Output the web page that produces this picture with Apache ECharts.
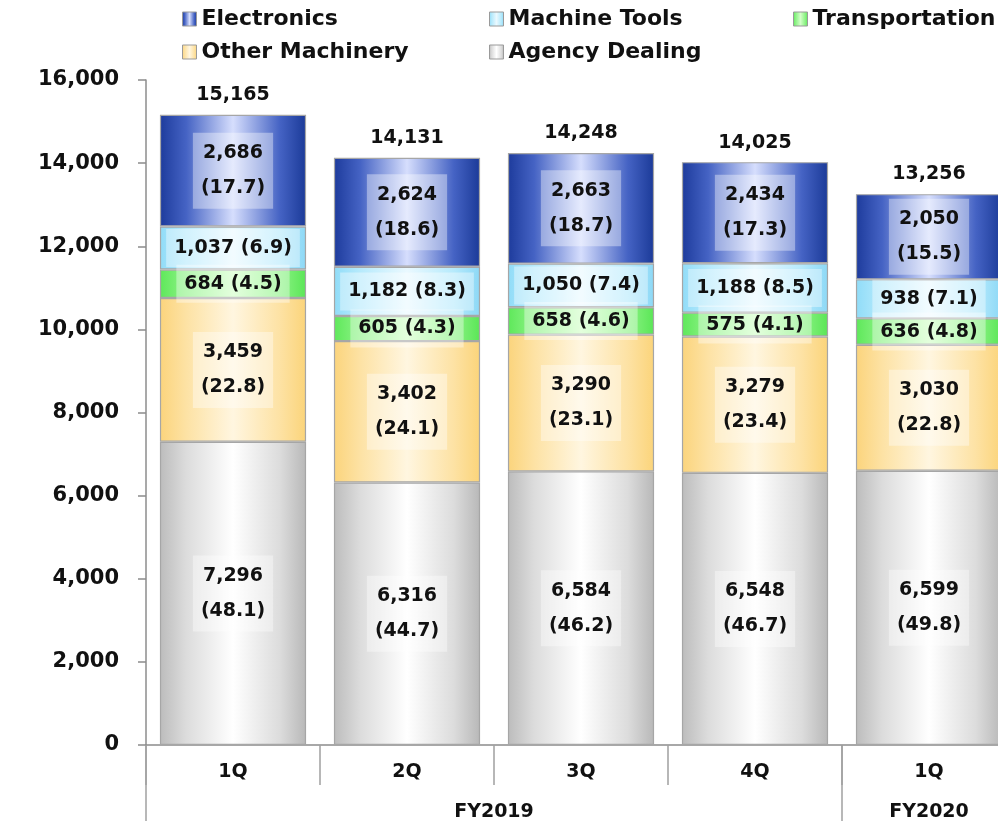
<!DOCTYPE html>
<html>
<head>
<meta charset="utf-8">
<script src="https://cdn.jsdelivr.net/npm/echarts@6/dist/echarts.min.js"></script>
<style>
  html, body { margin: 0; padding: 0; background: #fff; }
  #chart { width: 998px; height: 821px; }
</style>
</head>
<body>
<div id="chart"></div>
<script>
// Quarterly sales by segment (stack order: bottom to top)
const quarters = ['1Q', '2Q', '3Q', '4Q', '1Q'];
const fiscalYears = ['FY2019', 'FY2020'];
const fiscalYearSpans = [4, 1]; // number of quarters in each fiscal year

const agencyDealing   = [7296, 6316, 6584, 6548, 6599];
const otherMachinery  = [3459, 3402, 3290, 3279, 3030];
const transportation  = [684, 605, 658, 575, 636];
const machineTools    = [1037, 1182, 1050, 1188, 938];
const electronics     = [2686, 2624, 2663, 2434, 2050];

// Share of total (%)
const agencyShare     = [48.1, 44.7, 46.2, 46.7, 49.8];
const otherShare      = [22.8, 24.1, 23.1, 23.4, 22.8];
const transportShare  = [4.5, 4.3, 4.6, 4.1, 4.8];
const machineShare    = [6.9, 8.3, 7.4, 8.5, 7.1];
const electronicsShare= [17.7, 18.6, 18.7, 17.3, 15.5];

const totals = [15165, 14131, 14248, 14025, 13256];

const yTicks = { min: 0, max: 16000, interval: 2000 };

const FONT = '"DejaVu Sans", Verdana, sans-serif';
const fmt = v => v.toLocaleString('en-US');

function grad(edgeL, mid, center, edgeR) {
  return {
    type: 'linear', x: 0, y: 0, x2: 1, y2: 0,
    colorStops: [
      { offset: 0, color: edgeL },
      { offset: 0.18, color: mid },
      { offset: 0.5, color: center },
      { offset: 0.82, color: mid },
      { offset: 1, color: edgeR }
    ]
  };
}

const palette = {
  'Agency Dealing':  grad('#bcbcbc', '#dcdcdc', '#ffffff', '#b8b8b8'),
  'Other Machinery': grad('#fbd47c', '#fde2a4', '#fff6e0', '#fbd47a'),
  'Transportation':  grad('#5ee85a', '#8cf285', '#d2ffc8', '#5ae656'),
  'Machine Tools':   grad('#90dcf8', '#b6eafc', '#eaf9ff', '#8cd8f6'),
  'Electronics':     grad('#1d3b9c', '#4563c4', '#d6defd', '#1b3a98')
};

function segLabel(values, shares, twoLine) {
  return {
    show: true,
    position: 'inside',
    fontFamily: FONT,
    fontWeight: 'bold',
    fontSize: 19,
    color: '#111',
    lineHeight: twoLine ? 35 : 26,
    backgroundColor: 'rgba(255,255,255,0.38)',
    padding: twoLine ? [3, 8] : [6, 8],
    formatter: p => twoLine
      ? fmt(values[p.dataIndex]) + '\n(' + shares[p.dataIndex].toFixed(1) + ')'
      : fmt(values[p.dataIndex]) + ' (' + shares[p.dataIndex].toFixed(1) + ')'
  };
}

function barSeries(name, values, shares, twoLine) {
  return {
    name: name,
    type: 'bar',
    stack: 'sales',
    barWidth: '84%',
    data: values,
    itemStyle: { color: palette[name], borderColor: '#a6a6a6', borderWidth: 1.2 },
    label: segLabel(values, shares, twoLine),
    emphasis: { disabled: true }
  };
}

const legendItems = [
  { name: 'Electronics',     left: 182, top: 8 },
  { name: 'Machine Tools',   left: 489, top: 8 },
  { name: 'Transportation',  left: 793, top: 8 },
  { name: 'Other Machinery', left: 182, top: 41 },
  { name: 'Agency Dealing',  left: 489, top: 41 }
];

const chart = echarts.init(document.getElementById('chart'), null, { renderer: 'canvas' });

const option = {
  animation: false,
  backgroundColor: '#ffffff',
  legend: legendItems.map(l => ({
    data: [l.name],
    left: l.left,
    top: l.top,
    icon: 'rect',
    itemWidth: 14,
    itemHeight: 14,
    itemGap: 0,
    padding: 0,
    selectedMode: false,
    itemStyle: { borderColor: '#9a9a9a', borderWidth: 1 },
    textStyle: { fontFamily: FONT, fontWeight: 'bold', fontSize: 22, color: '#111', padding: [0, 0, 0, 0] }
  })),
  grid: { left: 146, top: 80, width: 870, height: 665, outerBoundsMode: 'none' },
  xAxis: {
    type: 'category',
    data: quarters,
    axisLine: { lineStyle: { color: '#8c8c8c', width: 1.5 } },
    axisTick: { show: true, length: 40, lineStyle: { color: '#a0a0a0', width: 1.5 } },
    axisLabel: { fontFamily: FONT, fontWeight: 'bold', fontSize: 19, color: '#111', margin: 18 }
  },
  yAxis: {
    type: 'value',
    min: yTicks.min,
    max: yTicks.max,
    interval: yTicks.interval,
    splitLine: { show: false },
    axisLine: { show: true, lineStyle: { color: '#8c8c8c', width: 1.5 } },
    axisTick: { show: true, length: 8, lineStyle: { color: '#8c8c8c', width: 1.5 } },
    axisLabel: { fontFamily: FONT, fontWeight: 'bold', fontSize: 21, color: '#111', margin: 27, formatter: v => fmt(v) }
  },
  series: [
    barSeries('Agency Dealing', agencyDealing, agencyShare, true),
    barSeries('Other Machinery', otherMachinery, otherShare, true),
    barSeries('Transportation', transportation, transportShare, false),
    barSeries('Machine Tools', machineTools, machineShare, false),
    barSeries('Electronics', electronics, electronicsShare, true),
    {
      name: 'Total',
      type: 'scatter',
      data: totals,
      symbol: 'circle',
      symbolSize: 0.01,
      itemStyle: { color: '#111111', opacity: 1 },
      label: {
        show: true, position: 'top', distance: 10,
        fontFamily: FONT, fontWeight: 'bold', fontSize: 19, color: '#111111',
        formatter: p => fmt(totals[p.dataIndex])
      },
      emphasis: { disabled: true },
      z: 5
    }
  ]
};

chart.setOption(option);

// Fiscal-year group labels and separators under the quarter labels
const c0 = chart.convertToPixel({ xAxisIndex: 0 }, 0);
const c1 = chart.convertToPixel({ xAxisIndex: 0 }, 1);
const band = c1 - c0;
const axisY = chart.convertToPixel({ yAxisIndex: 0 }, 0);
const graphics = [];
let start = 0;
fiscalYears.forEach((fy, i) => {
  const left = c0 - band / 2 + start * band;
  const right = left + fiscalYearSpans[i] * band;
  graphics.push({
    type: 'line',
    shape: { x1: left, y1: axisY, x2: left, y2: 821 },
    style: { stroke: '#a0a0a0', lineWidth: 1.5 }
  });
  graphics.push({
    type: 'text',
    x: (left + right) / 2,
    y: axisY + 67,
    style: {
      text: fy, fontFamily: FONT, fontWeight: 'bold', fontSize: 19, fill: '#111',
      textAlign: 'center', textVerticalAlign: 'middle'
    }
  });
  start += fiscalYearSpans[i];
});
chart.setOption({ graphic: graphics });
</script>
</body>
</html>
